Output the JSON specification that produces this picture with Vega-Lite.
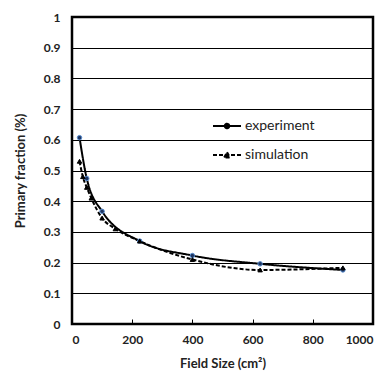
{
  "$schema": "https://vega.github.io/schema/vega-lite/v6.json",
  "autosize": {"type": "none"},
  "padding": {"left": 72, "top": 17, "right": 14, "bottom": 53},
  "width": 301,
  "height": 307,
  "background": "white",
  "config": {
    "view": {"stroke": "black", "strokeWidth": 2.5},
    "font": "Lato"
  },
  "data": {
    "values": [
      {"series": "experiment", "size": 25, "fraction": 0.607},
      {"series": "experiment", "size": 49, "fraction": 0.474},
      {"series": "experiment", "size": 100, "fraction": 0.367},
      {"series": "experiment", "size": 225, "fraction": 0.27},
      {"series": "experiment", "size": 400, "fraction": 0.223},
      {"series": "experiment", "size": 625, "fraction": 0.196},
      {"series": "experiment", "size": 900, "fraction": 0.176},
      {"series": "simulation", "size": 25, "fraction": 0.53},
      {"series": "simulation", "size": 36, "fraction": 0.48},
      {"series": "simulation", "size": 49, "fraction": 0.445},
      {"series": "simulation", "size": 64, "fraction": 0.41},
      {"series": "simulation", "size": 100, "fraction": 0.345},
      {"series": "simulation", "size": 144, "fraction": 0.31},
      {"series": "simulation", "size": 225, "fraction": 0.27},
      {"series": "simulation", "size": 400, "fraction": 0.21},
      {"series": "simulation", "size": 625, "fraction": 0.176},
      {"series": "simulation", "size": 900, "fraction": 0.183}
    ]
  },
  "encoding": {
    "x": {
      "field": "size", "type": "quantitative",
      "scale": {"domain": [0, 1000], "nice": false},
      "axis": {
        "values": [0, 200, 400, 600, 800, 1000],
        "format": "d",
        "title": "Field  Size  (cm²)",
        "grid": false, "domain": false,
        "tickColor": "black", "tickSize": -5, "tickWidth": 1,
        "labelFont": "Lato", "labelFontWeight": "bold", "labelFontSize": 12, "labelColor": "#222",
        "labelPadding": 15,
        "titleFont": "Lato", "titleFontWeight": "bold", "titleFontSize": 13, "titleColor": "#222",
        "titlePadding": 12
      }
    },
    "y": {
      "field": "fraction", "type": "quantitative",
      "scale": {"domain": [0, 1], "nice": false},
      "axis": {
        "values": [0, 0.1, 0.2, 0.3, 0.4, 0.5, 0.6, 0.7, 0.8, 0.9, 1],
        "format": ".1~f",
        "title": "Primary fraction (%)",
        "grid": true, "gridColor": "black", "gridWidth": 1.2, "gridOpacity": 1,
        "domain": false, "ticks": false,
        "labelFont": "Lato", "labelFontWeight": "bold", "labelFontSize": 12, "labelColor": "#222",
        "labelPadding": 12,
        "titleFont": "Lato", "titleFontWeight": "bold", "titleFontSize": 13, "titleColor": "#222",
        "titlePadding": 16
      }
    }
  },
  "layer": [
    {
      "mark": {"type": "line", "color": "black", "strokeWidth": 2, "interpolate": "monotone"},
      "encoding": {
        "strokeDash": {
          "field": "series", "type": "nominal",
          "scale": {"domain": ["experiment", "simulation"], "range": [[1, 0], [4, 2]]},
          "legend": {
            "title": null, "orient": "none", "legendX": 140, "legendY": 94,
            "symbolType": "M-1,0L1,0M-0.16,0A0.16,0.16,0,1,1,0.16,0A0.16,0.16,0,1,1,-0.16,0Z",
            "symbolSize": 784, "symbolStrokeWidth": 2, "symbolStrokeColor": "black", "symbolFillColor": "black",
            "labelFont": "Lato", "labelFontSize": 14, "labelColor": "#222",
            "rowPadding": 7, "labelOffset": 3,
            "encode": {
              "symbols": {
                "update": {
                  "shape": {"signal": "datum.value === 'experiment' ? 'M-1,0L1,0M-0.16,0A0.16,0.16,0,1,1,0.16,0A0.16,0.16,0,1,1,-0.16,0Z' : 'M-1,0L1,0M-0.2,0.17L0,-0.2L0.2,0.17Z'"},
                  "fill": {"value": "black"},
                  "stroke": {"value": "black"},
                  "strokeWidth": {"value": 2},
                  "opacity": {"value": 1},
                  "strokeOpacity": {"value": 1}
                }
              }
            }
          }
        }
      }
    },
    {
      "transform": [{"filter": "datum.series === 'experiment'"}],
      "mark": {"type": "point", "shape": "circle", "filled": true, "size": 20, "opacity": 1, "fill": "#1f3560", "stroke": "#5b8fd0", "strokeWidth": 1}
    },
    {
      "transform": [{"filter": "datum.series === 'simulation'"}],
      "mark": {"type": "point", "shape": "triangle-up", "filled": true, "size": 20, "opacity": 1, "fill": "black", "stroke": "black", "strokeWidth": 1}
    }
  ]
}
